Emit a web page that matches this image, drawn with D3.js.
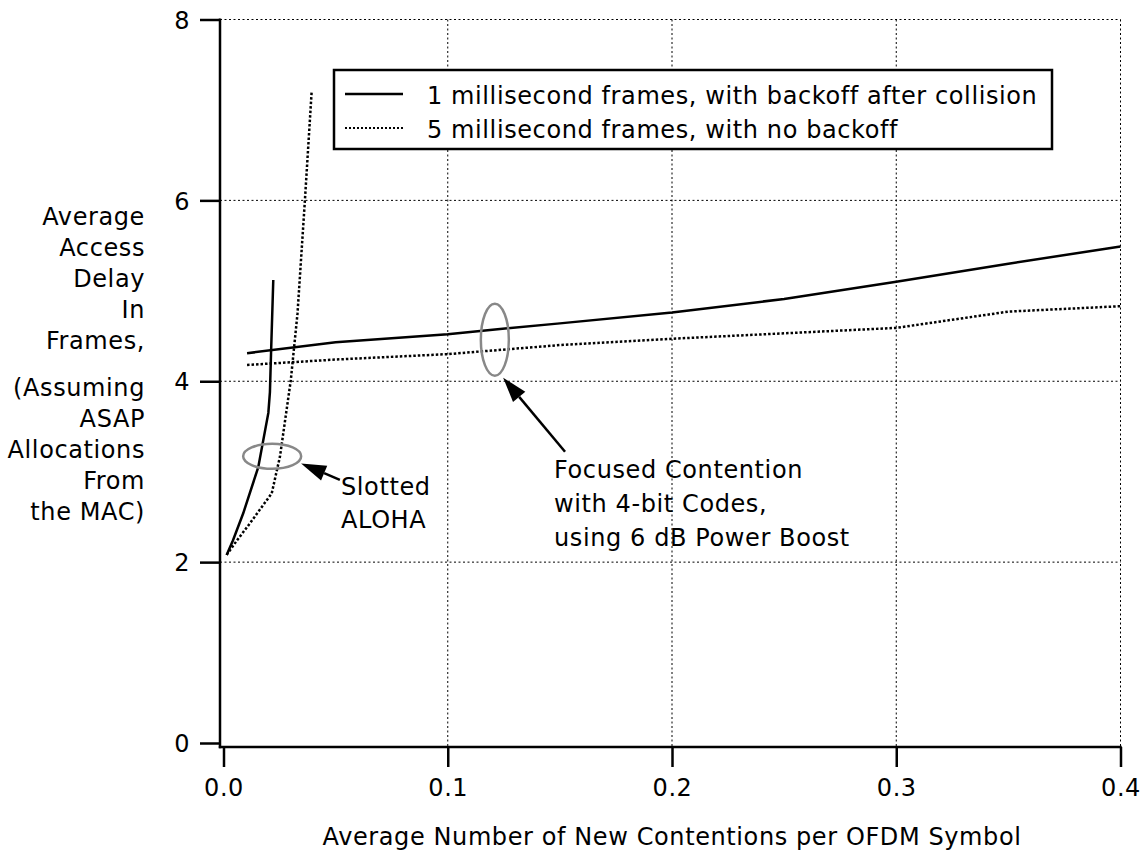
<!DOCTYPE html>
<html>
<head>
<meta charset="utf-8">
<script src="https://cdn.jsdelivr.net/npm/d3@7"></script>
<style>
  body { margin: 0; background: #fff; }
  text { font-family: "DejaVu Sans", Verdana, sans-serif; font-size: 24px; letter-spacing: 0.6px; fill: #000; }
</style>
</head>
<body>
<svg width="1146" height="850"></svg>
<script>
// data
const xTicks = [0.0, 0.1, 0.2, 0.3, 0.4];
const yTicks = [0, 2, 4, 6, 8];
const xTickLabels = ["0.0", "0.1", "0.2", "0.3", "0.4"];

const focusX = [0.0105, 0.05, 0.1, 0.12, 0.15, 0.2, 0.25, 0.3, 0.35, 0.4];
const focus1ms = [4.31, 4.43, 4.52, 4.57, 4.64, 4.76, 4.91, 5.10, 5.30, 5.49];
const focus5ms = [4.18, 4.24, 4.30, 4.34, 4.40, 4.47, 4.53, 4.59, 4.77, 4.83];

const aloha1msX = [0.0014, 0.0042, 0.0088, 0.0155, 0.020, 0.0207, 0.0212, 0.0222];
const aloha1ms = [2.08, 2.24, 2.54, 3.05, 3.65, 3.88, 4.31, 5.12];
const aloha5msX = [0.0014, 0.006, 0.0118, 0.0215, 0.0252, 0.030, 0.033, 0.0363, 0.0393];
const aloha5ms = [2.08, 2.24, 2.43, 2.76, 3.17, 4.01, 4.75, 6.0, 7.2];

const legendLabels = [
  "1 millisecond frames, with backoff after collision",
  "5 millisecond frames, with no backoff"
];
const yTitleLines = ["Average", "Access", "Delay", "In", "Frames,", "", "(Assuming", "ASAP", "Allocations", "From", "the MAC)"];
const xTitle = "Average Number of New Contentions per OFDM Symbol";

const focusNote = ["Focused Contention", "with 4-bit Codes,", "using 6 dB Power Boost"];
const alohaNote = ["Slotted", "ALOHA"];

const svg = d3.select("svg");

const x = d3.scaleLinear().domain([0, 0.4]).range([223.5, 1120.5]);
const y = d3.scaleLinear().domain([0, 8]).range([743, 19.5]);

const axisX = 220;
const axisY = 747;

// grid
const grid = svg.append("g")
  .attr("stroke", "#000")
  .attr("stroke-width", 1)
  .attr("stroke-dasharray", "2,2.5");

grid.selectAll(".vg")
  .data(xTicks.filter(d => d > 0))
  .join("line")
    .attr("x1", d => x(d)).attr("x2", d => x(d))
    .attr("y1", y(8)).attr("y2", axisY);

grid.selectAll(".hg")
  .data(yTicks.filter(d => d > 0))
  .join("line")
    .attr("x1", axisX).attr("x2", x(0.4))
    .attr("y1", d => y(d)).attr("y2", d => y(d));

// axes
const xAxis = svg.append("g")
  .attr("transform", `translate(0, ${axisY})`)
  .call(d3.axisBottom(x).tickValues(xTicks).tickFormat((d, i) => xTickLabels[i]).tickSize(20).tickPadding(15));

const yAxis = svg.append("g")
  .attr("transform", `translate(${axisX}, 0)`)
  .call(d3.axisLeft(y).tickValues(yTicks).tickSize(20).tickPadding(10));

[xAxis, yAxis].forEach(a => {
  a.select(".domain").remove();
  a.selectAll(".tick line").attr("stroke", "#000").attr("stroke-width", 2.5);
  a.selectAll(".tick text")
    .attr("font-family", null).attr("font-size", null)
    .style("font-size", "24px");
});
xAxis.selectAll(".tick text").attr("dy", "0.6em");
yAxis.selectAll(".tick text").attr("dy", "0.36em");

svg.append("line")
  .attr("x1", axisX).attr("x2", axisX)
  .attr("y1", y(8) - 1).attr("y2", axisY + 1.2)
  .attr("stroke", "#000").attr("stroke-width", 2.5);
svg.append("line")
  .attr("x1", axisX - 1.2).attr("x2", x(0.4) + 1.2)
  .attr("y1", axisY).attr("y2", axisY)
  .attr("stroke", "#000").attr("stroke-width", 2.5);

// series
const line = d3.line().x(d => x(d[0])).y(d => y(d[1]));
const series = [
  { xs: focusX, ys: focus1ms, dash: null },
  { xs: focusX, ys: focus5ms, dash: "2.5,2" },
  { xs: aloha1msX, ys: aloha1ms, dash: null },
  { xs: aloha5msX, ys: aloha5ms, dash: "2.5,2" }
];

svg.append("g").selectAll("path")
  .data(series)
  .join("path")
    .attr("d", s => line(d3.zip(s.xs, s.ys)))
    .attr("fill", "none")
    .attr("stroke", "#000")
    .attr("stroke-width", 2.5)
    .attr("stroke-dasharray", s => s.dash);

// annotations: ellipses and arrows (positions in data units)
const ellipses = [
  { cx: 0.121, cy: 4.46, rx: 14, ry: 36 },
  { cx: 0.0217, cy: 3.17, rx: 29, ry: 12.5 }
];
svg.append("g").selectAll("ellipse")
  .data(ellipses)
  .join("ellipse")
    .attr("cx", d => x(d.cx)).attr("cy", d => y(d.cy))
    .attr("rx", d => d.rx).attr("ry", d => d.ry)
    .attr("fill", "none").attr("stroke", "#888").attr("stroke-width", 2.5);

const arrows = [
  { from: [0.1523, 3.22], to: [0.1247, 4.04] },
  { from: [0.0519, 2.91], to: [0.0346, 3.09] }
];
const arrowG = svg.append("g");
arrows.forEach(a => {
  const x1 = x(a.from[0]), y1 = y(a.from[1]);
  const x2 = x(a.to[0]), y2 = y(a.to[1]);
  const ang = Math.atan2(y2 - y1, x2 - x1);
  const len = 25, hw = 8;
  const bx = x2 - len * Math.cos(ang), by = y2 - len * Math.sin(ang);
  arrowG.append("line")
    .attr("x1", x1).attr("y1", y1).attr("x2", bx).attr("y2", by)
    .attr("stroke", "#000").attr("stroke-width", 2.5);
  arrowG.append("path")
    .attr("d", `M${x2},${y2}L${bx + hw * Math.sin(ang)},${by - hw * Math.cos(ang)}L${bx - hw * Math.sin(ang)},${by + hw * Math.cos(ang)}Z`)
    .attr("fill", "#000");
});

// annotation text
svg.append("g").selectAll("text")
  .data(focusNote)
  .join("text")
    .attr("x", 554)
    .attr("y", (d, i) => 478 + i * 34)
    .text(d => d);

svg.append("g").selectAll("text")
  .data(alohaNote)
  .join("text")
    .attr("x", 341)
    .attr("y", (d, i) => 495 + i * 33)
    .text(d => d);

// legend
const legend = svg.append("g");
legend.append("rect")
  .attr("x", 334).attr("y", 70)
  .attr("width", 718).attr("height", 79)
  .attr("fill", "#fff").attr("stroke", "#000").attr("stroke-width", 2.5);

const legendRows = legend.selectAll(".row")
  .data(legendLabels)
  .join("g")
    .attr("transform", (d, i) => `translate(0, ${94 + i * 34})`);
legendRows.append("line")
  .attr("x1", 345).attr("x2", 403)
  .attr("stroke", "#000")
  .attr("stroke-width", (d, i) => i ? 2 : 2.5)
  .attr("stroke-dasharray", (d, i) => i ? "2,2" : null);
legendRows.append("text")
  .attr("x", 427).attr("y", 10)
  .text(d => d);

// axis titles
svg.append("g").selectAll("text")
  .data(yTitleLines)
  .join("text")
    .attr("x", 145)
    .attr("y", (d, i) => 225 + i * 31 - (i > 5 ? 15 : 0))
    .attr("text-anchor", "end")
    .text(d => d);

svg.append("text")
  .attr("x", 672).attr("y", 845)
  .attr("text-anchor", "middle")
  .text(xTitle);
</script>
</body>
</html>
